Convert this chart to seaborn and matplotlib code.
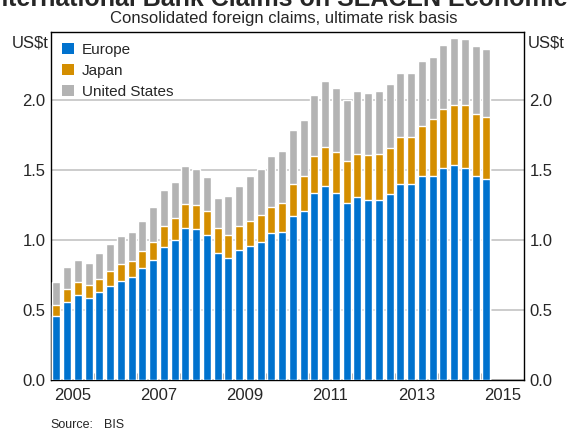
import pandas as pd
import matplotlib
matplotlib.use("Agg")
import matplotlib.pyplot as plt
from matplotlib.patches import Patch
import seaborn as sns

# Datos trimestrales (US$ billones), 2005-Q1 a 2015-Q1
quarters = [f"{y}-Q{q}" for y in range(2005, 2016) for q in range(1, 5)][:41]
europe = [0.46, 0.56, 0.61, 0.59, 0.63, 0.67, 0.71, 0.74, 0.80, 0.86,
          0.95, 1.00, 1.09, 1.08, 1.04, 0.91, 0.87, 0.93, 0.96, 0.99,
          1.05, 1.06, 1.17, 1.21, 1.34, 1.39, 1.34, 1.27, 1.31, 1.29,
          1.29, 1.33, 1.40, 1.40, 1.46, 1.46, 1.52, 1.54, 1.52, 1.46, 1.44]
japan = [0.08, 0.09, 0.09, 0.09, 0.09, 0.11, 0.12, 0.11, 0.12, 0.13,
         0.15, 0.16, 0.17, 0.17, 0.17, 0.18, 0.17, 0.17, 0.18, 0.19,
         0.19, 0.21, 0.23, 0.25, 0.26, 0.28, 0.29, 0.30, 0.31, 0.32,
         0.33, 0.33, 0.34, 0.34, 0.36, 0.41, 0.42, 0.43, 0.45, 0.44, 0.44]
united_states = [0.16, 0.16, 0.16, 0.16, 0.19, 0.19, 0.20, 0.21, 0.22, 0.25,
                 0.26, 0.26, 0.27, 0.26, 0.24, 0.21, 0.28, 0.29, 0.32, 0.33,
                 0.36, 0.37, 0.39, 0.40, 0.44, 0.47, 0.46, 0.43, 0.45, 0.44,
                 0.45, 0.46, 0.46, 0.46, 0.46, 0.44, 0.46, 0.48, 0.47, 0.49, 0.49]
year_labels = ["2005", "2007", "2009", "2011", "2013", "2015"]

colors = {"Europe": "#0072CE", "Japan": "#D48E00", "United States": "#B3B3B3"}

df = pd.DataFrame({"Quarter": quarters, "Europe": europe,
                   "Japan": japan, "United States": united_states})
df["EU_JP"] = df["Europe"] + df["Japan"]
df["Total"] = df["EU_JP"] + df["United States"]

sns.set_style("white")
plt.rcParams["font.family"] = ["Liberation Sans", "DejaVu Sans"]

fig = plt.figure(figsize=(5.67, 4.34), dpi=100)
ax = fig.add_axes([51 / 567, 54 / 434, 473 / 567, 348 / 434])

# Barras apiladas: se dibuja el total y encima las sumas parciales
for col, c in [("Total", colors["United States"]), ("EU_JP", colors["Japan"]),
               ("Europe", colors["Europe"])]:
    sns.barplot(data=df, x="Quarter", y=col, order=quarters, color=c,
                saturation=1, width=0.74, ax=ax, zorder=3)

ax.set_xlim(-0.5, 43.5)
ax.set_ylim(0, 2.49)
ax.set_xlabel("")
ax.set_ylabel("")

# Ejes
ax.set_xticks([(int(y) - 2005) * 4 + 1.5 for y in year_labels])
ax.set_xticklabels(year_labels, fontsize=12)
ax.set_xticks([i * 4 - 0.5 for i in range(1, 11)], minor=True)
ax.tick_params(axis="x", which="major", length=0, pad=6)
ax.tick_params(axis="x", which="minor", direction="in", length=5,
               width=1, color="black", bottom=True, top=False)

yt = [0.0, 0.5, 1.0, 1.5, 2.0]
ax.set_yticks(yt)
ax.set_yticklabels([f"{v:.1f}" for v in yt], fontsize=12)
ax.tick_params(axis="y", length=0, pad=4, labelright=True, labelleft=True)
ax.grid(axis="y", color="#C8C8C8", linewidth=1.3, zorder=0)
ax.grid(axis="x", visible=False)
ax.set_axisbelow(True)
for s in ax.spines.values():
    s.set_visible(True)
    s.set_color("black")
    s.set_linewidth(1.0)

ax.text(-0.005, 0.99, "US$t", transform=ax.transAxes, ha="right", va="top", fontsize=12)
ax.text(1.008, 0.99, "US$t", transform=ax.transAxes, ha="left", va="top", fontsize=12)

handles = [Patch(facecolor=colors[k], edgecolor="none") for k in colors]
ax.legend(handles, list(colors.keys()), loc="upper left", frameon=False,
          fontsize=11, handlelength=0.8, handleheight=0.8, handletextpad=0.5,
          labelspacing=0.45, borderaxespad=0.3, bbox_to_anchor=(0.0, 1.0))

# Títulos (el título principal queda recortado por el borde superior)
fig.text(0.5, 1 - 6 / 434, "International Bank Claims on SEACEN Economies",
         ha="center", va="baseline", fontsize=18, fontweight="bold")
fig.text(0.5, 1 - 19 / 434, "Consolidated foreign claims, ultimate risk basis",
         ha="center", va="center", fontsize=12)
fig.text(50 / 567, 1 - 425 / 434, "Source:", ha="left", va="center", fontsize=9)
fig.text(104 / 567, 1 - 425 / 434, "BIS", ha="left", va="center", fontsize=9)

fig.savefig("out.png", dpi=100)
